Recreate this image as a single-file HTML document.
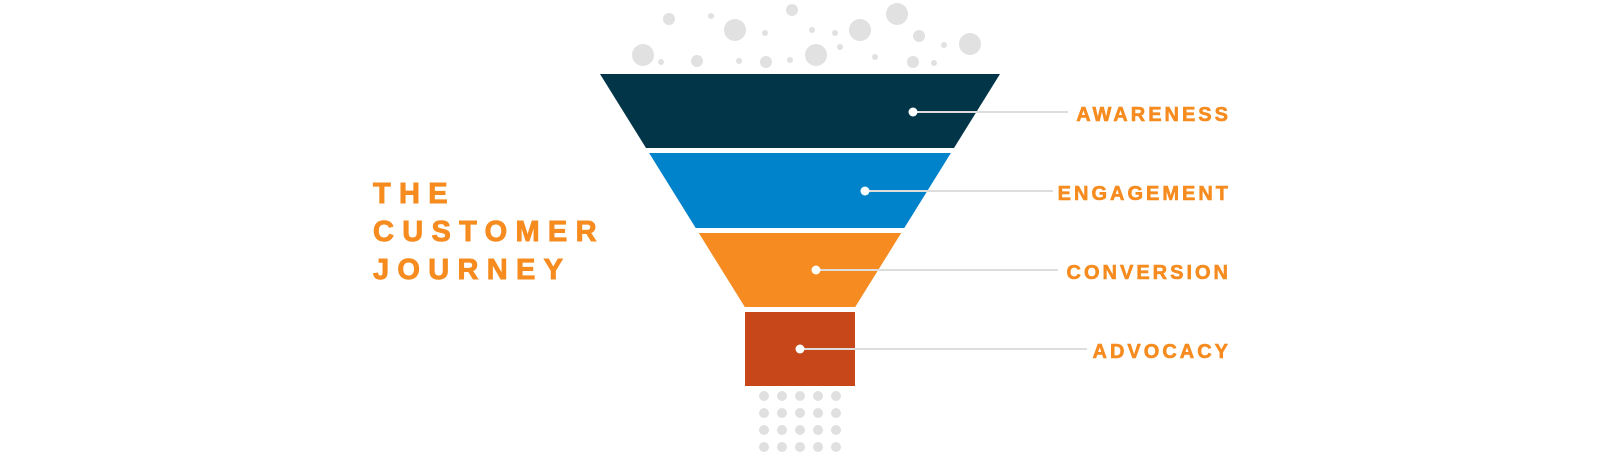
<!DOCTYPE html>
<html>
<head>
<meta charset="utf-8">
<style>
  html,body{margin:0;padding:0;background:#fff;}
  body{width:1600px;height:462px;overflow:hidden;}
  svg{display:block;}
  .t{font-family:"Liberation Sans",Arial,sans-serif;font-weight:bold;fill:#F68B1F;stroke:#F68B1F;}
</style>
</head>
<body>
<svg width="1600" height="462" viewBox="0 0 1600 462" xmlns="http://www.w3.org/2000/svg">
  <!-- bubbles -->
  <g fill="#E1E1E1">
    <circle cx="669" cy="19" r="6"/>
    <circle cx="711" cy="16" r="3"/>
    <circle cx="735" cy="30" r="11"/>
    <circle cx="792" cy="10" r="6"/>
    <circle cx="765" cy="33" r="3"/>
    <circle cx="812" cy="30" r="3"/>
    <circle cx="835" cy="33" r="3"/>
    <circle cx="860" cy="30" r="11"/>
    <circle cx="897" cy="14" r="11"/>
    <circle cx="919" cy="36" r="6"/>
    <circle cx="944" cy="45" r="3"/>
    <circle cx="970" cy="44" r="11"/>
    <circle cx="643" cy="55" r="11"/>
    <circle cx="661" cy="62" r="3"/>
    <circle cx="697" cy="61" r="6"/>
    <circle cx="739" cy="61" r="3"/>
    <circle cx="766" cy="62" r="6"/>
    <circle cx="790" cy="60" r="3"/>
    <circle cx="816" cy="55" r="11"/>
    <circle cx="840" cy="47" r="3"/>
    <circle cx="875" cy="57" r="3"/>
    <circle cx="913" cy="62" r="6"/>
    <circle cx="934" cy="63" r="3"/>
  </g>

  <!-- funnel -->
  <polygon points="600,74 1000,74 954,148 646,148" fill="#023548"/>
  <polygon points="649.1,153 950.9,153 904.3,228 695.7,228" fill="#0083CA"/>
  <polygon points="698.8,233 901.2,233 855.2,307 744.8,307" fill="#F68B22"/>
  <rect x="745" y="312" width="110" height="74" fill="#C7461A"/>

  <!-- bottom dot grid -->
  <g fill="#E0E0E0">
    <circle cx="764" cy="396" r="5"/><circle cx="782" cy="396" r="5"/><circle cx="800" cy="396" r="5"/><circle cx="818" cy="396" r="5"/><circle cx="836" cy="396" r="5"/>
    <circle cx="764" cy="413" r="5"/><circle cx="782" cy="413" r="5"/><circle cx="800" cy="413" r="5"/><circle cx="818" cy="413" r="5"/><circle cx="836" cy="413" r="5"/>
    <circle cx="764" cy="430" r="5"/><circle cx="782" cy="430" r="5"/><circle cx="800" cy="430" r="5"/><circle cx="818" cy="430" r="5"/><circle cx="836" cy="430" r="5"/>
    <circle cx="764" cy="447" r="5"/><circle cx="782" cy="447" r="5"/><circle cx="800" cy="447" r="5"/><circle cx="818" cy="447" r="5"/><circle cx="836" cy="447" r="5"/>
  </g>

  <!-- connector lines -->
  <g stroke="#DDDDDD" stroke-width="2">
    <line x1="913" y1="112" x2="1068" y2="112"/>
    <line x1="865" y1="191" x2="1053" y2="191"/>
    <line x1="816" y1="270" x2="1058" y2="270"/>
    <line x1="800" y1="349" x2="1087" y2="349"/>
  </g>
  <g fill="#FFFFFF">
    <circle cx="913" cy="112" r="4.5"/>
    <circle cx="865" cy="191" r="4.5"/>
    <circle cx="816" cy="270" r="4.5"/>
    <circle cx="800" cy="349" r="4.5"/>
  </g>

  <!-- labels -->
  <g class="t" font-size="20" letter-spacing="3" text-anchor="end" stroke-width="0.6">
    <text x="1231" y="121">AWARENESS</text>
    <text x="1231" y="200">ENGAGEMENT</text>
    <text x="1231" y="279">CONVERSION</text>
    <text x="1231" y="358">ADVOCACY</text>
  </g>

  <!-- title -->
  <g class="t" font-size="29" letter-spacing="8.3" stroke-width="0.9">
    <text x="373" y="203">THE</text>
    <text x="373" y="241">CUSTOMER</text>
    <text x="373" y="279">JOURNEY</text>
  </g>
</svg>
</body>
</html>
